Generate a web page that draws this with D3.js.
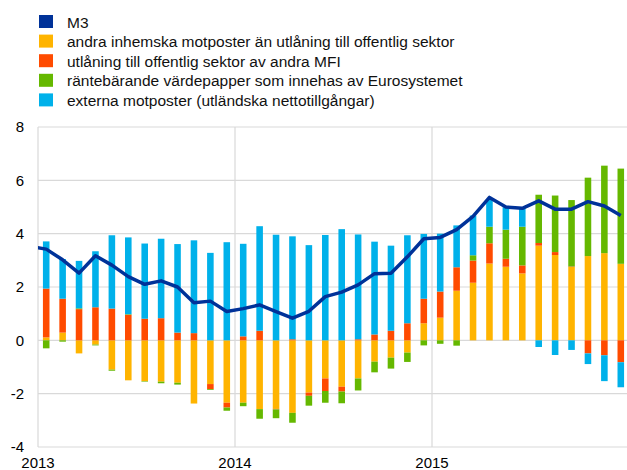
<!DOCTYPE html>
<html lang="sv">
<head>
<meta charset="utf-8">
<title>M3 och motposter</title>
<script src="https://d3js.org/d3.v7.min.js"></script>
<style>
  body { margin: 0; background: #fff; }
  svg { font-family: "Liberation Sans", Arial, sans-serif; }
</style>
</head>
<body>
<script>
// månader jan 2013 - dec 2015
var months = d3.range(36);
var yearLabels = ["2013", "2014", "2015"];
var yTicks = [-4, -2, 0, 2, 4, 6, 8];

// bidrag, procentenheter
var andraInhemska = [0.11, 0.29, -0.49, -0.16, -1.1, -1.5, -1.53, -1.55, -1.59, -2.37, -1.64, -2.34,
  -2.34, -2.58, -2.57, -2.72, -1.96, -1.43, -1.74, -1.43, -0.8, -0.65, -0.46, 0.64,
  0.85, 1.86, 2.16, 2.88, 2.76, 2.51, 3.55, 3.2, 2.75, 3.16, 3.27, 2.87];
var utlaningMFI = [1.83, 1.27, 1.17, 1.24, 1.19, 0.96, 0.81, 0.83, 0.29, 0.27, -0.19, -0.18,
  0.15, 0.36, -0.02, 0.04, -0.12, -0.47, -0.18, 0.04, 0.22, 0.36, 0.64, 0.92,
  0.98, 0.88, 0.83, 0.76, 0.30, 0.30, 0.10, 0.11, 0.02, -0.49, -0.56, -0.82];
var eurosystemet = [-0.3, -0.05, 0.03, -0.03, -0.04, 0.02, -0.02, -0.06, -0.07, 0, -0.03, -0.12,
  -0.13, -0.36, -0.33, -0.37, -0.37, -0.44, -0.44, -0.45, -0.4, -0.41, -0.35, -0.19,
  -0.13, -0.2, 0.2, 0.62, 1.09, 1.45, 1.81, 2.12, 2.49, 2.94, 3.28, 3.57];
var externa = [1.77, 1.49, 1.78, 2.10, 2.75, 2.88, 2.82, 2.98, 3.32, 3.48, 3.28, 3.68,
  3.47, 3.92, 3.96, 3.86, 3.57, 3.95, 4.17, 3.93, 3.48, 3.19, 3.30, 2.43,
  2.17, 1.57, 1.49, 1.02, 0.84, 0.68, -0.25, -0.55, -0.36, -0.40, -0.97, -0.94];
// M3, första värdet = dec 2012
var m3 = [3.52, 3.42, 3.02, 2.52, 3.17, 2.82, 2.39, 2.1, 2.23, 2.0, 1.41, 1.47, 1.08,
  1.19, 1.33, 1.08, 0.83, 1.09, 1.64, 1.81, 2.08, 2.5, 2.52, 3.13, 3.81,
  3.86, 4.15, 4.65, 5.36, 5.0, 4.95, 5.23, 4.92, 4.92, 5.2, 5.04, 4.68];

var seriesKeys = ["andra", "utl", "euro", "ext"];
var seriesNames = {
  m3: "M3",
  andra: "andra inhemska motposter än utlåning till offentlig sektor",
  utl: "utlåning till offentlig sektor av andra MFI",
  euro: "räntebärande värdepapper som innehas av Eurosystemet",
  ext: "externa motposter (utländska nettotillgångar)"
};
var colors = {m3: "#003299", andra: "#FFB400", utl: "#FF4B00", euro: "#65B800", ext: "#00B1EA"};

var w = 627, h = 470;
var plotL = 38, plotR = 629, plotT = 127, plotB = 447;

var svg = d3.select("body").append("svg")
  .attr("width", w)
  .attr("height", h);

var rows = months.map(function(i) {
  return {i: i, andra: andraInhemska[i], utl: utlaningMFI[i], euro: eurosystemet[i], ext: externa[i]};
});

var x = d3.scaleBand()
  .domain(months)
  .range([plotL, plotR])
  .paddingInner(0.6)
  .paddingOuter(0.3);

var xm = d3.scaleLinear().domain([0, 36]).range([plotL, plotR]);

var y = d3.scaleLinear()
  .domain([-4, 8])
  .range([plotB, plotT]);

// rutnät
svg.append("g")
  .selectAll("line")
  .data(yTicks)
  .enter().append("line")
  .attr("x1", plotL).attr("x2", w)
  .attr("y1", function(d) { return y(d); })
  .attr("y2", function(d) { return y(d); })
  .attr("stroke", "#d9d9d9")
  .attr("stroke-width", 1.2);

svg.append("g")
  .selectAll("line")
  .data([0, 12, 24])
  .enter().append("line")
  .attr("x1", function(d) { return xm(d); })
  .attr("x2", function(d) { return xm(d); })
  .attr("y1", plotT).attr("y2", plotB)
  .attr("stroke", "#d9d9d9")
  .attr("stroke-width", 1.2);

// staplar
var stack = d3.stack()
  .keys(seriesKeys)
  .offset(d3.stackOffsetDiverging);

svg.append("g")
  .selectAll("g")
  .data(stack(rows))
  .enter().append("g")
  .attr("fill", function(d) { return colors[d.key]; })
  .selectAll("rect")
  .data(function(d) { return d; })
  .enter().append("rect")
  .attr("x", function(d) { return x(d.data.i); })
  .attr("width", x.bandwidth())
  .attr("y", function(d) { return y(Math.max(d[0], d[1])); })
  .attr("height", function(d) { return Math.abs(y(d[0]) - y(d[1])); });

// M3-linje, punkt 0 = dec 2012 (utanför, klipps)
svg.append("clipPath").attr("id", "plot")
  .append("rect")
  .attr("x", plotL).attr("y", 0)
  .attr("width", w - plotL).attr("height", h);

var line = d3.line()
  .x(function(d, i) { return xm(i - 0.5); })
  .y(function(d) { return y(d); });

svg.append("path")
  .datum(m3)
  .attr("clip-path", "url(#plot)")
  .attr("d", line)
  .attr("fill", "none")
  .attr("stroke", colors.m3)
  .attr("stroke-width", 3.5)
  .attr("stroke-linejoin", "round");

// axeltexter
svg.append("g")
  .selectAll("text")
  .data(yTicks)
  .enter().append("text")
  .attr("x", 24)
  .attr("y", function(d) { return y(d); })
  .attr("dy", "0.36em")
  .attr("text-anchor", "end")
  .attr("font-size", 15)
  .attr("fill", "#000")
  .text(function(d) { return d; });

svg.append("g")
  .selectAll("text")
  .data(yearLabels)
  .enter().append("text")
  .attr("x", function(d, i) { return xm(i * 12); })
  .attr("y", 468)
  .attr("text-anchor", "middle")
  .attr("font-size", 15)
  .attr("fill", "#000")
  .text(function(d) { return d; });

// förklaring
var legendKeys = ["m3", "andra", "utl", "euro", "ext"];
var legend = svg.append("g")
  .selectAll("g")
  .data(legendKeys)
  .enter().append("g")
  .attr("transform", function(d, i) { return "translate(39," + (15 + i * 19.6) + ")"; });

legend.append("rect")
  .attr("width", 14).attr("height", 13)
  .attr("fill", function(d) { return colors[d]; });

legend.append("text")
  .attr("x", 28)
  .attr("y", 7)
  .attr("dy", "0.36em")
  .attr("font-size", 15.5)
  .attr("fill", "#111")
  .text(function(d) { return seriesNames[d]; });
</script>
</body>
</html>
